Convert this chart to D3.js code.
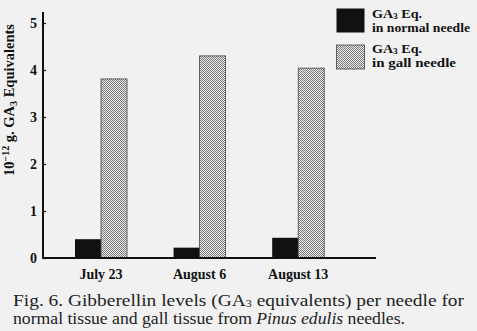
<!DOCTYPE html>
<html><head><meta charset="utf-8">
<script src="https://cdn.jsdelivr.net/npm/d3@7/dist/d3.min.js"></script>
<style>
html,body{margin:0;padding:0;background:#f1f1f1;}
svg{display:block;}
</style></head>
<body>
<svg id="c" width="477" height="331"></svg>
<script>
const categories = ["July 23", "August 6", "August 13"];
const normalValues = [0.40, 0.22, 0.43];
const gallValues = [3.81, 4.30, 4.04];
const yTicks = [0, 1, 2, 3, 4, 5];

const svg = d3.select("#c");
const serif = "'Liberation Serif','Times New Roman',serif";

const defs = svg.append("defs");
const pat = defs.append("pattern").attr("id","stip").attr("patternUnits","userSpaceOnUse")
  .attr("width",2).attr("height",2);
pat.append("rect").attr("width",2).attr("height",2).attr("fill","#eeeeee");
pat.append("rect").attr("width",1).attr("height",1).attr("fill","#7a7a7a");
pat.append("rect").attr("x",1).attr("y",1).attr("width",1).attr("height",1).attr("fill","#7a7a7a");

const x0 = 43, y0 = 258;
const y = d3.scaleLinear().domain([0,5]).range([y0, 23]);
const x = d3.scaleBand().domain(categories).range([28.4, 370.8]).padding(0.4726);
const sub = d3.scaleBand().domain(["n","g"]).range([0, x.bandwidth()]);

// bars
const g = svg.append("g");
categories.forEach((c,i)=>{
  g.append("rect").attr("x", x(c)+sub("n")).attr("width", sub.bandwidth())
    .attr("y", y(normalValues[i])).attr("height", y0 - y(normalValues[i]))
    .attr("fill","#111");
  g.append("rect").attr("x", x(c)+sub("g")).attr("width", sub.bandwidth())
    .attr("y", y(gallValues[i])).attr("height", y0 - y(gallValues[i]))
    .attr("fill","url(#stip)").attr("stroke","#444").attr("stroke-width",0.8);
});

// y axis
const ya = svg.append("g").attr("transform",`translate(${x0},0)`)
  .call(d3.axisRight(y).tickValues(yTicks).tickSize(3).tickFormat(""));
ya.select(".domain").remove();
svg.append("line").attr("x1",x0).attr("x2",x0).attr("y1",12).attr("y2",y0+1)
  .attr("stroke","#111").attr("stroke-width",2);
ya.selectAll("line").attr("stroke","#111").attr("stroke-width",1.2);
svg.append("g").selectAll("text").data(yTicks).join("text")
  .attr("x",37).attr("y",d=>y(d)+5).attr("text-anchor","end")
  .attr("font-family",serif).attr("font-weight","bold").attr("font-size",14)
  .attr("fill","#111").text(d=>d);

// x axis
svg.append("line").attr("x1",x0).attr("x2",376).attr("y1",y0).attr("y2",y0)
  .attr("stroke","#111").attr("stroke-width",2);
svg.append("g").selectAll("text").data(categories).join("text")
  .attr("x",d=>x(d)+x.bandwidth()/2).attr("y",279).attr("text-anchor","middle")
  .attr("font-family",serif).attr("font-weight","bold").attr("font-size",14)
  .attr("fill","#111").text(d=>d);

// y title
const yt = svg.append("text").attr("transform","translate(14,100) rotate(-90)")
  .attr("text-anchor","middle").attr("font-family",serif).attr("font-weight","bold")
  .attr("font-size",14.5).attr("fill","#111");
yt.append("tspan").text("10");
yt.append("tspan").attr("dy",-5).attr("font-size",10).text("−12");
yt.append("tspan").attr("dy",5).text(" g. GA");
yt.append("tspan").attr("dy",3).attr("font-size",10).text("3");
yt.append("tspan").attr("dy",-3).text(" Equivalents");

// legend
const legend = [
  {fill:"#111", stroke:"none", top:8.5, b1:18, b2:32, l1:"in normal needle", w:98},
  {fill:"url(#stip)", stroke:"#444", top:45, b1:53, b2:66.5, l1:"in gall needle", w:84}
];
legend.forEach(d=>{
  svg.append("rect").attr("x",336.5).attr("y",d.top).attr("width",28).attr("height",24)
    .attr("fill",d.fill).attr("stroke",d.stroke).attr("stroke-width",0.8);
  const t = svg.append("text").attr("x",372).attr("y",d.b1)
    .attr("font-family",serif).attr("font-weight","bold").attr("font-size",12).attr("fill","#111")
    .attr("textLength",50).attr("lengthAdjust","spacingAndGlyphs");
  t.append("tspan").text("GA");
  t.append("tspan").attr("dy",1).attr("font-size",8).text("3");
  t.append("tspan").attr("dy",-1).text(" Eq.");
  svg.append("text").attr("x",372).attr("y",d.b2)
    .attr("font-family",serif).attr("font-weight","bold").attr("font-size",12).attr("fill","#111")
    .attr("textLength",d.w).attr("lengthAdjust","spacingAndGlyphs")
    .text(d.l1);
});

// caption
const cap1 = svg.append("text").attr("x",13).attr("y",305.5)
  .attr("font-family",serif).attr("font-size",16).attr("fill","#222")
  .attr("textLength",451).attr("lengthAdjust","spacingAndGlyphs");
cap1.append("tspan").text("Fig. 6. Gibberellin levels (GA");
cap1.append("tspan").attr("dy",1).attr("font-size",10).text("3");
cap1.append("tspan").attr("dy",-1).text("  equivalents) per needle for");
const cap2 = svg.append("text").attr("x",13).attr("y",323.5)
  .attr("font-family",serif).attr("font-size",16).attr("fill","#222")
  .attr("textLength",392).attr("lengthAdjust","spacingAndGlyphs");
cap2.append("tspan").text("normal tissue and gall tissue from ");
cap2.append("tspan").attr("font-style","italic").text("Pinus edulis");
cap2.append("tspan").text(" needles.");
</script>
</body></html>
